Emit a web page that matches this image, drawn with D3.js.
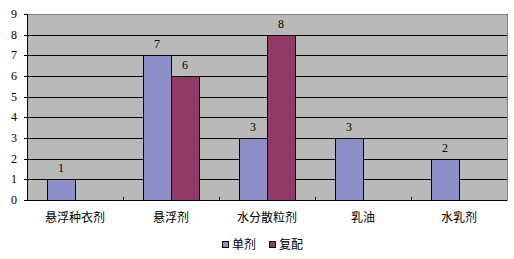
<!DOCTYPE html>
<html>
<head>
<meta charset="utf-8">
<script src="https://cdn.jsdelivr.net/npm/d3@7"></script>
<style>
body { margin: 0; background: #fff; }
text { font-family: "Liberation Serif", "Noto Sans CJK SC", serif; font-size: 12px; fill: #000; }
.cn { font-family: "Noto Sans CJK SC", sans-serif; font-size: 12px; }
</style>
</head>
<body>
<svg id="chart" width="514" height="259"></svg>
<script>
var categories = ["悬浮种衣剂", "悬浮剂", "水分散粒剂", "乳油", "水乳剂"]
var seriesNames = ["单剂", "复配"]
var danji = [1, 7, 3, 3, 2]
var fupei = [null, 6, 8, null, null]
var yTicks = [0, 1, 2, 3, 4, 5, 6, 7, 8, 9]
var colors = ["#8C8FC8", "#913A68"]

var svg = d3.select("#chart")
var pLeft = 27, pRight = 507, pTop = 14, pBottom = 200

var x = d3.scaleBand().domain(categories).range([pLeft, pRight])
var xs = d3.scaleBand().domain(seriesNames).range([0, x.bandwidth()]).paddingOuter(0.714).paddingInner(0)
var y = d3.scaleLinear().domain([0, 9]).range([pBottom, pTop])

// plot background
svg.append("rect")
	.attr("x", pLeft + 0.5).attr("y", pTop + 0.5)
	.attr("width", pRight - pLeft).attr("height", pBottom - pTop)
	.attr("fill", "#B9B9B9")
	.attr("stroke", "#808080")

// gridlines
svg.selectAll(".grid").data(yTicks.slice(1, -1)).enter()
	.append("line")
	.attr("x1", pLeft).attr("x2", pRight)
	.attr("y1", function(d){ return Math.round(y(d)) + 0.5 })
	.attr("y2", function(d){ return Math.round(y(d)) + 0.5 })
	.attr("stroke", "#000")

var rows = categories.map(function(c, i){
	return [{cat: c, s: seriesNames[0], v: danji[i]}, {cat: c, s: seriesNames[1], v: fupei[i]}]
})
var bars = [].concat.apply([], rows).filter(function(d){ return d.v != null })

svg.selectAll(".bar").data(bars).enter()
	.append("rect")
	.attr("x", function(d){ return Math.round(x(d.cat) + xs(d.s)) + 0.5 })
	.attr("y", function(d){ return Math.round(y(d.v)) + 0.5 })
	.attr("width", Math.round(xs.bandwidth()))
	.attr("height", function(d){ return Math.round(y(0)) - Math.round(y(d.v)) })
	.attr("fill", function(d){ return colors[seriesNames.indexOf(d.s)] })
	.attr("stroke", "#000")

svg.selectAll(".val").data(bars).enter()
	.append("text")
	.attr("x", function(d){ return x(d.cat) + xs(d.s) + xs.bandwidth() / 2 })
	.attr("y", function(d){ return y(d.v) - 7 })
	.attr("text-anchor", "middle")
	.attr("fill", "#333")
	.text(function(d){ return d.v })

// axes
svg.append("line").attr("x1", pLeft + 0.5).attr("x2", pLeft + 0.5).attr("y1", pTop).attr("y2", pBottom + 1).attr("stroke", "#000")
svg.append("line").attr("x1", pLeft - 3).attr("x2", pRight).attr("y1", pBottom + 0.5).attr("y2", pBottom + 0.5).attr("stroke", "#000")

svg.selectAll(".ytick").data(yTicks).enter()
	.append("line")
	.attr("x1", pLeft - 3).attr("x2", pLeft)
	.attr("y1", function(d){ return Math.round(y(d)) + 0.5 })
	.attr("y2", function(d){ return Math.round(y(d)) + 0.5 })
	.attr("stroke", "#000")

svg.selectAll(".ylab").data(yTicks).enter()
	.append("text")
	.attr("x", 14)
	.attr("y", function(d){ return y(d) + 4 })
	.attr("text-anchor", "middle")
	.text(function(d){ return d })

svg.selectAll(".xtick").data(categories.slice(1)).enter()
	.append("line")
	.attr("x1", function(d){ return Math.round(x(d)) + 0.5 })
	.attr("x2", function(d){ return Math.round(x(d)) + 0.5 })
	.attr("y1", pBottom - 3).attr("y2", pBottom)
	.attr("stroke", "#000")

svg.selectAll(".xlab").data(categories).enter()
	.append("text")
	.attr("class", "cn")
	.attr("x", function(d){ return x(d) + x.bandwidth() / 2 })
	.attr("y", 222)
	.attr("text-anchor", "middle")
	.text(function(d){ return d })

// legend
var legX = [222, 269]
var leg = svg.selectAll(".leg").data(seriesNames).enter()
	.append("g")
	.attr("transform", function(d, i){ return "translate(" + legX[i] + ",241)" })
leg.append("rect")
	.attr("x", 0.5).attr("y", 0.5).attr("width", 6).attr("height", 6)
	.attr("fill", function(d, i){ return colors[i] })
	.attr("stroke", "#000")
leg.append("text")
	.attr("class", "cn")
	.attr("x", 10).attr("y", 8)
	.text(function(d){ return d })
</script>
</body>
</html>
